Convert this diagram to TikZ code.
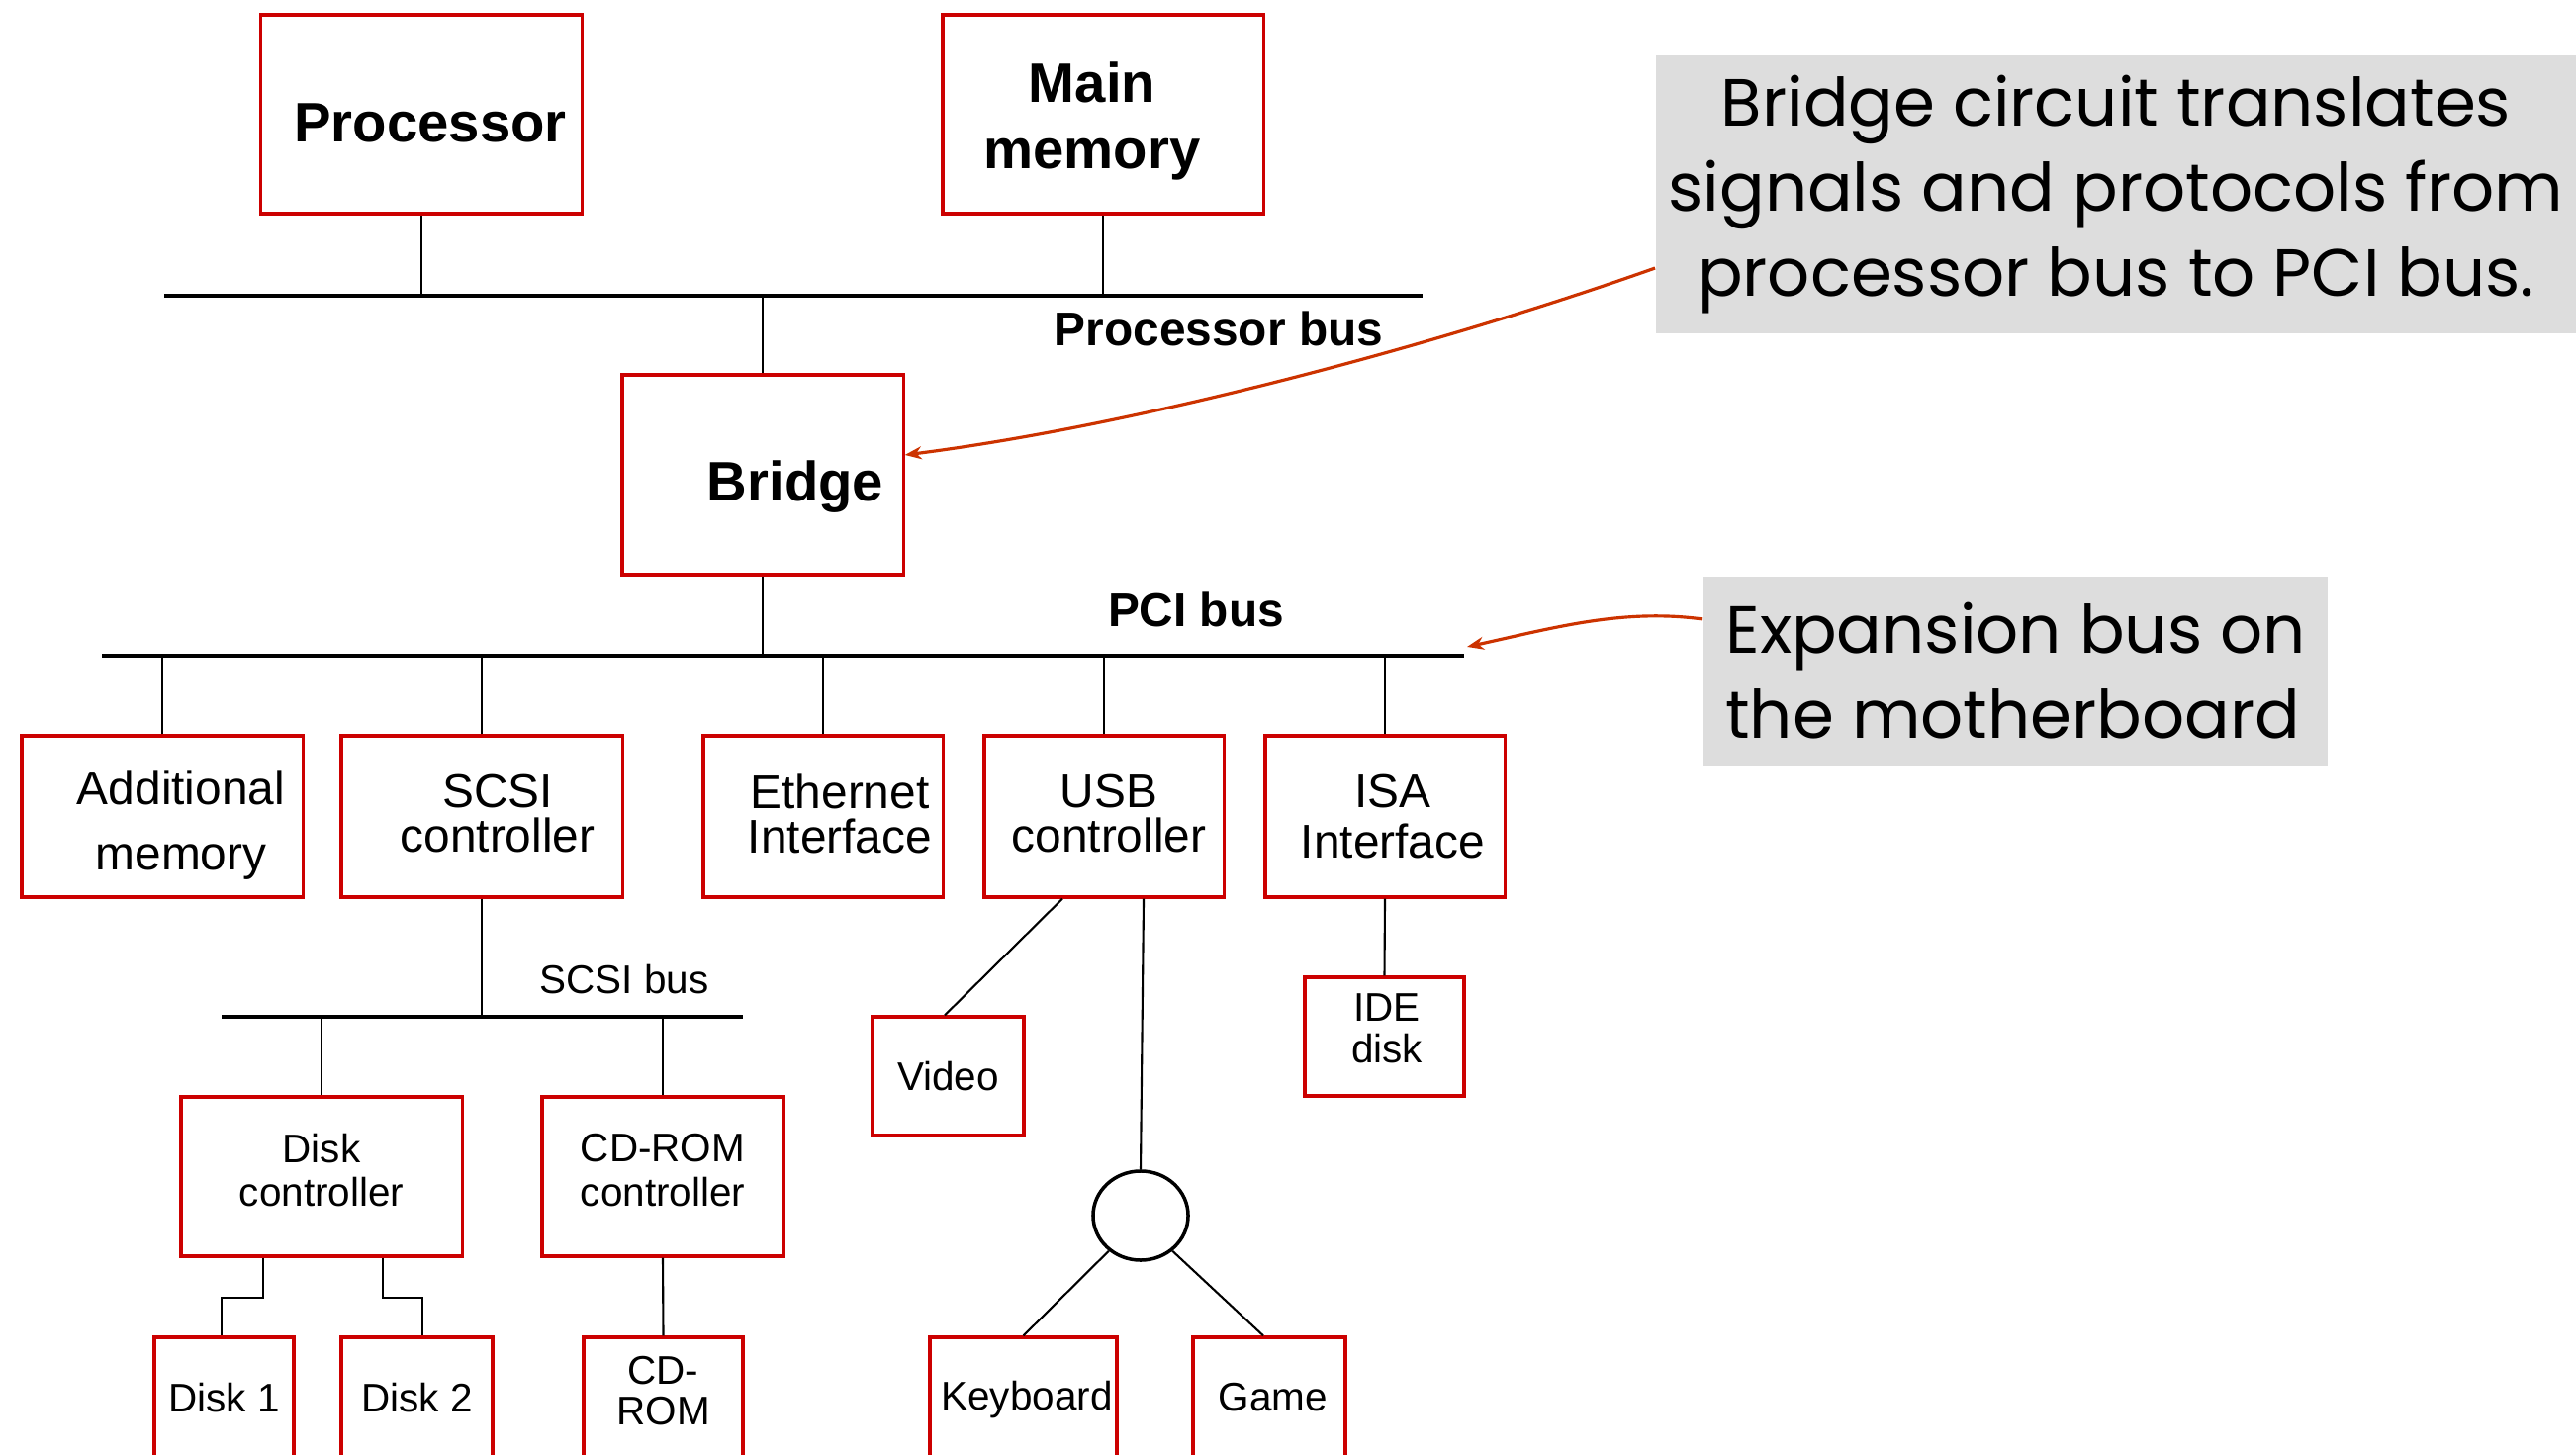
\documentclass[tikz,border=0pt]{standalone}
\usepackage{fontspec}
\setmainfont{Liberation Sans}
\newfontfamily\notefont{Poppins}
\usetikzlibrary{shapes.geometric,arrows.meta}
\definecolor{boxred}{HTML}{CC0000}
\definecolor{arrowred}{HTML}{CC3300}
\definecolor{notegray}{HTML}{DDDDDD}

\tikzset{
  unit/.style={draw=boxred, line width=0.9pt, inner sep=0pt},
  dims/.style 2 args={minimum width=#1cm, minimum height=#2cm},
  bigtxt/.style={font=\fontsize{16}{18.8}\selectfont\bfseries, align=center},
  midtxt/.style={font=\fontsize{13.6}{12.8}\selectfont, align=center},
  smalltxt/.style={font=\fontsize{11.5}{12.6}\selectfont, align=center},
  wire/.style={line width=0.6pt},
  bus/.style={line width=1.1pt},
  note/.style={fill=notegray, inner sep=0pt, font=\notefont\fontsize{19.2}{24.5}\selectfont},
  pointer/.style={draw=arrowred, line width=0.9pt, -{Stealth[length=0.17cm, width=0.13cm]}},
}

\begin{document}
\begin{tikzpicture}[x=0.01cm, y=-0.01cm]
  \useasboundingbox (0,0) rectangle (2604,1471);

  % Processor and main memory
  \node[unit, dims={3.24}{2.01}, label={[bigtxt, name=proc-t, xshift=0.09cm, yshift=-0.09cm]center:Processor}] (proc) at (426,115.5) {};
  \node[unit, dims={3.24}{2.01}, label={[bigtxt, name=mem-t, xshift=-0.11cm, yshift=-0.07cm]center:Main\\memory}] (mem) at (1115,115.5) {};

  % Processor bus
  \coordinate (pbus-w) at (166,299);
  \coordinate (pbus-e) at (1438,299);
  \draw[bus] (pbus-w) -- (pbus-e);
  \node[font=\fontsize{13.6}{16}\selectfont\bfseries] (pbus-t) at (1232,332) {Processor bus};
  \draw[wire] (proc.south) -- (proc.south |- pbus-w);
  \draw[wire] (mem.south) -- (mem.south |- pbus-w);

  % Bridge
  \node[unit, dims={2.84}{2.02}, label={[bigtxt, name=bridge-t, xshift=0.33cm, yshift=-0.12cm]center:Bridge}] (bridge) at (771,480) {};
  \draw[wire] (bridge.north) -- (bridge.north |- pbus-w);

  % PCI bus
  \coordinate (pci-w) at (103,663);
  \coordinate (pci-e) at (1480,663);
  \draw[bus] (pci-w) -- (pci-e);
  \node[font=\fontsize{13.6}{16}\selectfont\bfseries] (pci-t) at (1209,616) {PCI bus};
  \draw[wire] (bridge.south) -- (bridge.south |- pci-w);

  % Devices on the PCI bus
  \node[unit, dims={2.84}{1.63}, label={[midtxt, name=addmem-t, xshift=0.19cm, yshift=-0.085cm, font=\fontsize{13.6}{18.8}\selectfont]center:Additional\\memory}] (addmem) at (164,825.5) {};
  \node[unit, dims={2.84}{1.63}, label={[midtxt, name=scsi-t, xshift=0.16cm, yshift=0.025cm]center:SCSI\\controller}] (scsi) at (487,825.5) {};
  \node[unit, dims={2.42}{1.63}, label={[midtxt, name=eth-t, xshift=0.17cm, yshift=0.025cm]center:Ethernet\\Interface}] (eth) at (832,825.5) {};
  \node[unit, dims={2.42}{1.63}, label={[midtxt, name=usb-t, xshift=0.05cm, yshift=0.025cm]center:USB\\controller}] (usb) at (1116,825.5) {};
  \node[unit, dims={2.42}{1.63}, label={[midtxt, name=isa-t, xshift=0.08cm, font=\fontsize{13.6}{14.6}\selectfont]center:ISA\\Interface}] (isa) at (1400,825.5) {};
  \foreach \dev in {addmem,scsi,eth,usb,isa}
    \draw[wire] (\dev.north) -- (\dev.north |- pci-w);

  % SCSI bus
  \coordinate (sbus-w) at (224,1028);
  \coordinate (sbus-e) at (751,1028);
  \draw[bus] (sbus-w) -- (sbus-e);
  \node[font=\fontsize{11.5}{14}\selectfont] (sbus-t) at (631,990) {SCSI bus};
  \draw[wire] (scsi.south) -- (scsi.south |- sbus-w);

  \node[unit, dims={2.84}{1.61}, label={[smalltxt, name=diskc-t, yshift=0.065cm]center:Disk\\controller}] (diskc) at (325,1189.5) {};
  \node[unit, dims={2.44}{1.61}, label={[smalltxt, name=cdc-t, yshift=0.065cm]center:CD-ROM\\controller}] (cdc) at (670,1189.5) {};
  \draw[wire] (diskc.north) -- (diskc.north |- sbus-w);
  \draw[wire] (cdc.north) -- (cdc.north |- sbus-w);

  % Drives
  \node[unit, dims={1.41}{1.22}, label={[smalltxt, name=disk1-t]center:Disk 1}] (disk1) at (226.5,1413) {};
  \node[unit, dims={1.53}{1.22}, label={[smalltxt, name=disk2-t]center:Disk 2}] (disk2) at (421.5,1413) {};
  \node[unit, dims={1.61}{1.22}, label={[smalltxt, name=cdrom-t, yshift=0.07cm, font=\fontsize{11.5}{11.8}\selectfont]center:CD-\\ROM}] (cdrom) at (670.5,1413) {};
  \draw[wire] ([xshift=-0.59cm]diskc.south) -- ++(0,40) -| ([xshift=-0.025cm]disk1.north);
  \draw[wire] ([xshift=0.62cm]diskc.south) -- ++(0,40) -| ([xshift=0.055cm]disk2.north);
  \draw[wire] (cdc.south) -- (cdrom.north);

  % USB devices
  \node[unit, dims={1.53}{1.20}, label={[smalltxt, name=video-t]center:Video}] (video) at (958.5,1088) {};
  \node[draw, ellipse, line width=1pt, inner sep=0pt, minimum width=0.96cm, minimum height=0.9cm] (hub) at (1153,1229) {};
  \node[unit, dims={1.89}{1.22}, label={[smalltxt, name=kbd-t, xshift=0.035cm, yshift=-0.02cm]center:Keyboard}] (kbd) at (1034.5,1413) {};
  \node[unit, dims={1.54}{1.22}, label={[smalltxt, name=game-t, xshift=0.04cm]center:Game}] (game) at (1283,1413) {};
  \draw[wire] ([xshift=-0.42cm]usb.south) -- ([xshift=-0.035cm]video.north);
  \draw[wire] ([xshift=0.4cm]usb.south) -- (hub.north);
  \draw[wire] (hub.-132) -- (kbd.north);
  \draw[wire] (hub.-48) -- ([xshift=-0.06cm]game.north);

  % ISA device
  \node[unit, dims={1.61}{1.20}, label={[smalltxt, name=ide-t, xshift=0.025cm, yshift=0.08cm, font=\fontsize{11.5}{11.8}\selectfont]center:IDE\\disk}] (ide) at (1399.5,1048) {};
  \draw[wire] (isa.south) -- (ide.north);

  % Notes
  \node[note, dims={9.30}{2.81}, align=center] (bridgenote) at (2139,196.5)
    {Bridge circuit translates\\signals and protocols from\\processor bus to PCI bus.};
  \node[note, dims={6.31}{1.91}, align=left] (pcinote) at (2037.5,678.5)
    {Expansion bus on\\the motherboard};
  \draw[pointer] ([yshift=-0.745cm]bridgenote.west) .. controls (1450,350) and (1150,430) .. ([yshift=0.2cm]bridge.east);
  \draw[pointer] ([yshift=0.525cm]pcinote.west) .. controls (1640,615) and (1570,635) .. ([shift={(0.03cm,0.09cm)}]pci-e);
\end{tikzpicture}
\end{document}
